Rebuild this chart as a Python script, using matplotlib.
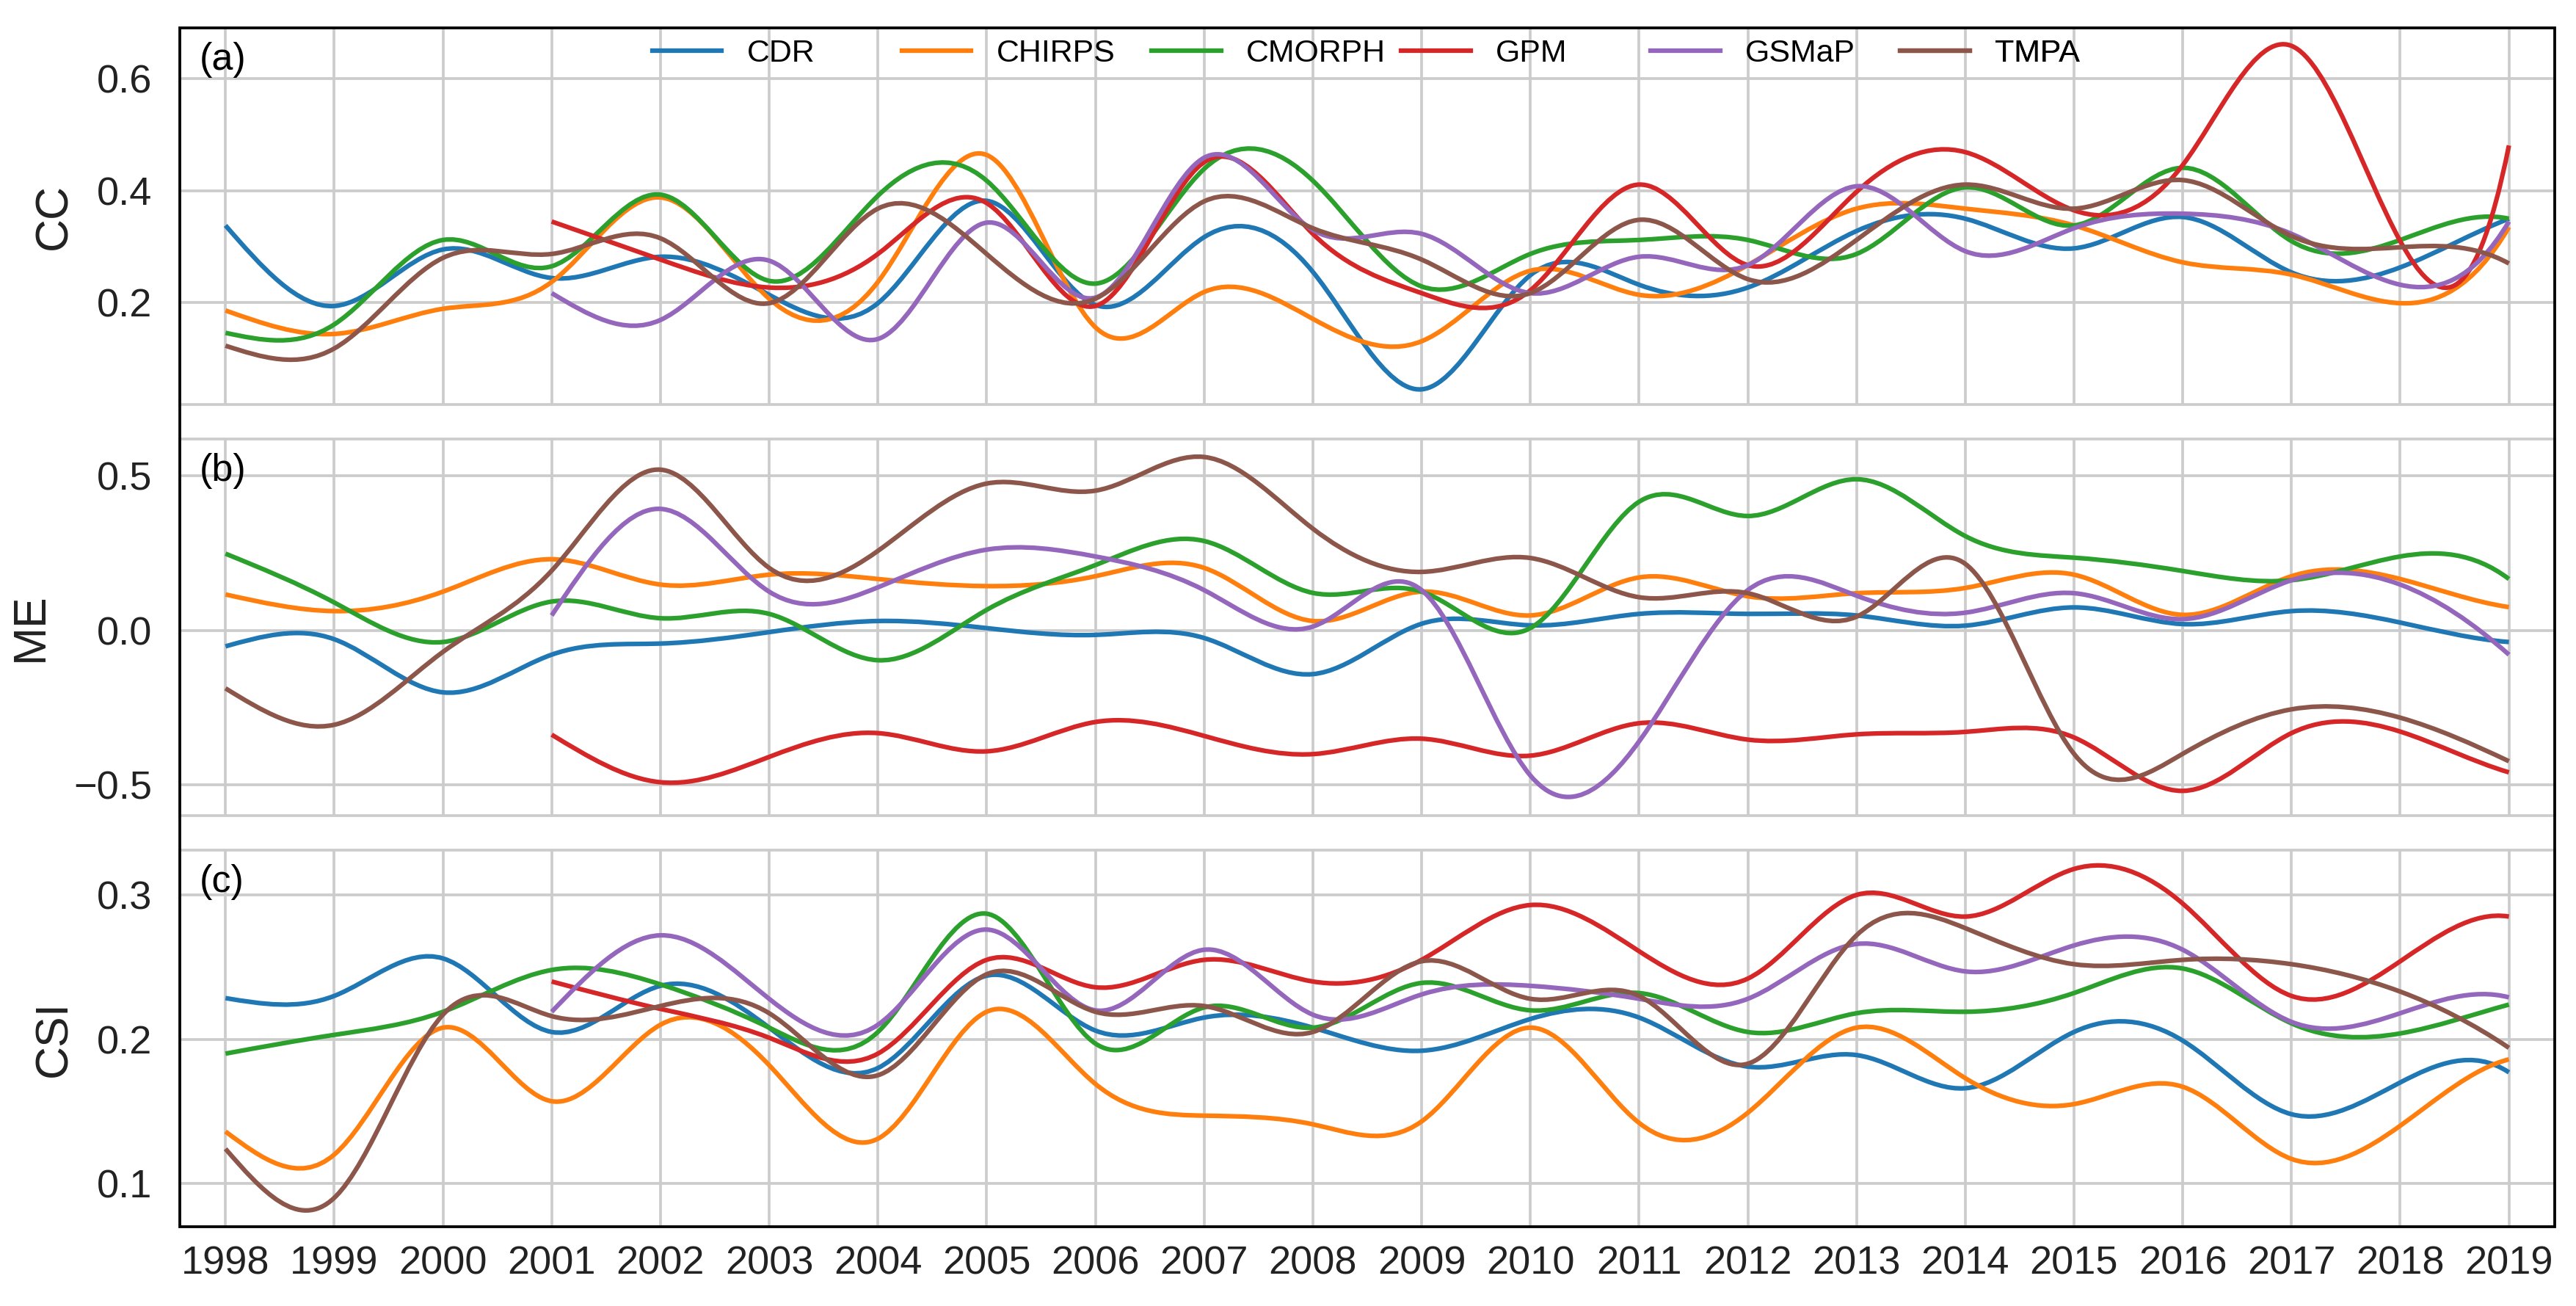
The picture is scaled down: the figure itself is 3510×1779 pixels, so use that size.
import numpy as np
import matplotlib
matplotlib.use('Agg')
from matplotlib import pyplot as plt
from matplotlib.path import Path
from matplotlib.patches import PathPatch, Rectangle
from matplotlib.lines import Line2D

plt.rcParams['font.family'] = ['Liberation Sans', 'DejaVu Sans']

years = list(range(1998, 2020))
products = ['CDR', 'CHIRPS', 'CMORPH', 'GPM', 'GSMaP', 'TMPA']
colors = ['#1f77b4', '#ff7f0e', '#2ca02c', '#d62728', '#9467bd', '#8c564b']
na = np.nan

# (a) CC, one value per year 1998-2019
cc_cdr = [.338, .194, .295, .244, .282, .214, .199, .382, .196, .317, .255,
          .045, .249, .232, .227, .328, .350, .297, .353, .254, .263, .350]
cc_chirps = [.186, .144, .189, .237, .388, .207, .237, .464, .156, .219, .171,
             .131, .257, .214, .267, .368, .368, .338, .272, .250, .199, .335]
cc_cmorph = [.146, .161, .312, .265, .393, .239, .391, .418, .234, .439, .418,
             .229, .287, .312, .312, .287, .406, .338, .441, .310, .312, .350]
cc_gpm = [na, na, na, .345, .277, .227, .287, .378, .194, .451, .323,
          .217, .222, .411, .267, .398, .469, .365, .446, .659, .310, .481]
cc_gsmap = [na, na, na, .217, .169, .275, .135, .343, .209, .459, .330,
            .323, .217, .282, .267, .408, .292, .333, .359, .323, .232, .345]
cc_tmpa = [.123, .118, .280, .287, .315, .199, .368, .287, .207, .381, .333,
           .277, .217, .348, .242, .312, .411, .368, .419, .319, .299, .270]

# (b) ME
me_cdr = [-.052, -.029, -.201, -.079, -.043, -.006, .030, .007, -.015, -.025, -.142,
          .021, .016, .053, .053, .048, .015, .074, .020, .062, .025, -.038]
me_chirps = [.116, .062, .125, .230, .148, .180, .166, .143, .175, .202, .030,
             .125, .048, .171, .110, .120, .137, .180, .050, .175, .166, .075]
me_cmorph = [.248, .090, -.038, .093, .039, .053, -.097, .066, .211, .289, .121,
             .125, .007, .416, .370, .489, .305, .235, .192, .162, .239, .166]
me_gpm = [na, na, na, -.338, -.492, -.410, -.333, -.392, -.297, -.342, -.401,
          -.351, -.406, -.301, -.354, -.337, -.329, -.347, -.520, -.333, -.328, -.460]
me_gsmap = [na, na, na, .048, .393, .125, .139, .261, .239, .130, .012,
            .130, -.470, -.360, .130, .112, .057, .120, .036, .162, .148, -.079]
me_tmpa = [-.188, -.306, -.070, .193, .520, .202, .257, .475, .452, .561, .329,
           .189, .234, .107, .120, .044, .215, -.400, -.400, -.256, -.283, -.424]

# (c) CSI
csi_cdr = [.2285, .230, .256, .205, .237, .208, .180, .244, .206, .215, .208,
           .192, .214, .215, .181, .189, .166, .205, .199, .148, .170, .177]
csi_chirps = [.136, .120, .208, .157, .210, .182, .131, .219, .169, .147, .141,
              .143, .208, .142, .149, .208, .173, .155, .167, .117, .140, .186]
csi_cmorph = [.190, .203, .219, .248, .238, .208, .205, .287, .197, .222, .208,
              .239, .220, .232, .205, .218, .219, .232, .249, .211, .204, .224]
csi_gpm = [na, na, na, .240, .221, .201, .190, .255, .236, .255, .240,
           .255, .293, .261, .242, .300, .285, .318, .294, .230, .254, .285]
csi_gsmap = [na, na, na, .219, .272, .228, .210, .276, .220, .262, .217,
             .231, .237, .228, .228, .266, .247, .265, .262, .212, .218, .229]
csi_tmpa = [.124, .090, .217, .216, .223, .218, .175, .245, .219, .223, .205,
            .254, .228, .230, .183, .272, .277, .252, .255, .252, .233, .194]

panels = [
    ('CC', '(a)', [cc_cdr, cc_chirps, cc_cmorph, cc_gpm, cc_gsmap, cc_tmpa],
     (0.018, 0.691), [0.2, 0.4, 0.6]),
    ('ME', '(b)', [me_cdr, me_chirps, me_cmorph, me_gpm, me_gsmap, me_tmpa],
     (-0.60, 0.619), [-0.5, 0.0, 0.5]),
    ('CSI', '(c)', [csi_cdr, csi_chirps, csi_cmorph, csi_gpm, csi_gsmap, csi_tmpa],
     (0.070, 0.331), [0.1, 0.2, 0.3]),
]


def spline_path(x, y):
    # cubic spline through the yearly values (free start, not-a-knot end),
    # handed to matplotlib as bezier segments
    x = np.asarray(x, float)
    y = np.asarray(y, float)
    ok = ~np.isnan(y)
    x, y = x[ok], y[ok]
    n = len(y)
    A = np.zeros((n, n))
    r = np.zeros(n)
    A[0, 0] = 1
    A[-1, -3:] = [1, -2, 1]
    for i in range(1, n - 1):
        A[i, i - 1:i + 2] = [1, 4, 1]
        r[i] = 6 * (y[i - 1] - 2 * y[i] + y[i + 1])
    M = np.linalg.solve(A, r)
    d = np.diff(y)
    m = np.empty(n)
    m[:-1] = d - (2 * M[:-1] + M[1:]) / 6
    m[-1] = d[-1] + (M[-2] + 2 * M[-1]) / 6
    verts = [(x[0], y[0])]
    for i in range(n - 1):
        verts += [(x[i] + 1 / 3, y[i] + m[i] / 3),
                  (x[i + 1] - 1 / 3, y[i + 1] - m[i + 1] / 3),
                  (x[i + 1], y[i + 1])]
    codes = [Path.MOVETO] + [Path.CURVE4] * (3 * (n - 1))
    return Path(verts, codes)


fig, axes = plt.subplots(3, 1, figsize=(11.7, 5.93), dpi=300, sharex=True)
fig.subplots_adjust(left=0.0698, right=0.9917, top=0.9786, bottom=0.0607, hspace=0.092)

for ax, (label, tag, series, ylim, yticks) in zip(axes, panels):
    for vals, c in zip(series, colors):
        ax.add_patch(PathPatch(spline_path(years, vals), fill=False, edgecolor=c,
                               lw=1.5, joinstyle='round', capstyle='butt'))
    ax.set_xlim(1997.58, 2019.42)
    ax.set_ylim(*ylim)
    ax.set_yticks(yticks)
    ax.set_xticks(years)
    ax.grid(True, color='#cccccc', lw=0.9)
    ax.set_axisbelow(True)
    for s in ax.spines.values():
        s.set_color('#cccccc')
        s.set_linewidth(0.9)
    ax.tick_params(axis='both', length=0, labelsize=13, colors='#222222')
    ax.tick_params(axis='y', pad=9)
    ax.tick_params(axis='x', pad=6)
    ax.set_ylabel(label, fontsize=15, labelpad=7, color='#222222')
    ax.text(0.0083, 0.915, tag, transform=ax.transAxes, ha='left', va='center',
            fontsize=12.5, color='black')

axes[2].set_xticklabels([str(y) for y in years])

# legend entries spread evenly along the top of panel (a)
for i, (name, c) in enumerate(zip(products, colors)):
    h = Line2D([], [], color=c, lw=1.5)
    leg = axes[0].legend([h], [name], loc='center left',
                         bbox_to_anchor=(0.199 + 0.1051 * i, 0.932),
                         frameon=False, fontsize=10.3, handlelength=2.2,
                         handletextpad=0.8, borderpad=0, borderaxespad=0)
    axes[0].add_artist(leg)

p_top = axes[0].get_position()
p_bot = axes[2].get_position()
fig.add_artist(Rectangle((p_bot.x0, p_bot.y0), p_top.x1 - p_bot.x0, p_top.y1 - p_bot.y0,
                         transform=fig.transFigure, fill=False, edgecolor='black',
                         lw=0.9, zorder=10))

fig.savefig('out.png', dpi=300, facecolor='white')
